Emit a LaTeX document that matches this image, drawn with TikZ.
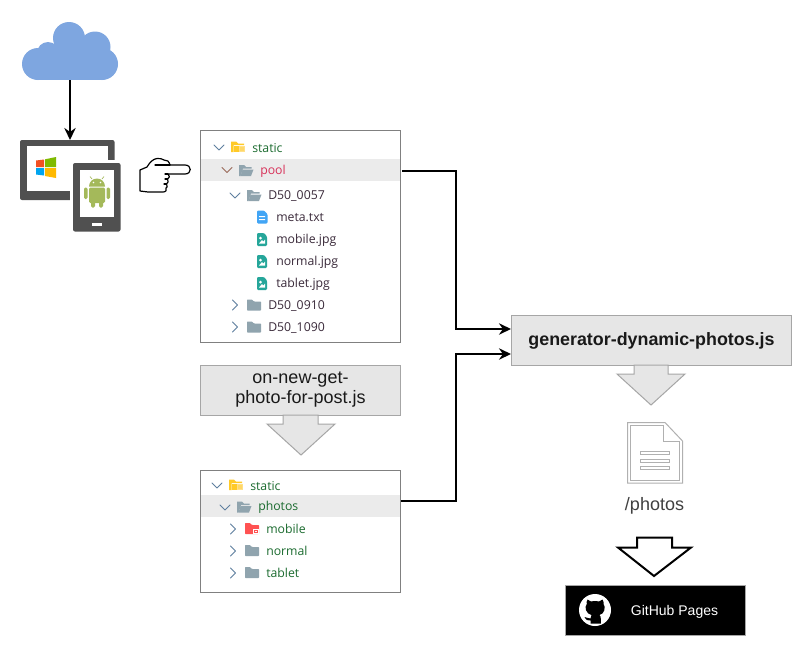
\documentclass[tikz,border=0pt]{standalone}
\usepackage{fontspec}
\setmainfont{Liberation Sans}
\newfontfamily\treefont{Open Sans}
\usetikzlibrary{arrows.meta}
\definecolor{boxgray}{HTML}{E6E6E6}
\definecolor{boxline}{HTML}{A6A6A6}
\definecolor{panelline}{HTML}{808080}
\definecolor{rowgray}{HTML}{EBEBEB}
\definecolor{foldergray}{HTML}{90A4AE}
\definecolor{treegreen}{HTML}{1B6B2F}
\definecolor{treedark}{HTML}{3A2A3A}
\definecolor{treered}{HTML}{D8325A}
\definecolor{chev}{HTML}{5F7F9F}
\definecolor{chevred}{HTML}{9A6A5A}
\definecolor{cloudblue}{HTML}{7EA6E0}
\definecolor{devgray}{HTML}{505050}
\definecolor{androidgreen}{HTML}{A4B95A}
\definecolor{docline}{HTML}{B0B0B0}
\definecolor{folderyellow}{HTML}{FFCA28}
\definecolor{folderyellowb}{HTML}{FFE08A}
\definecolor{imgteal}{HTML}{26A69A}
\definecolor{txtblue}{HTML}{42A5F5}
\definecolor{folderred}{HTML}{FF5252}
\definecolor{winred}{HTML}{F25022}
\definecolor{wingreen}{HTML}{7FBA00}
\definecolor{winblue}{HTML}{00A4EF}
\definecolor{winyellow}{HTML}{FFB900}
\tikzset{
 x=0.75pt,y=-0.75pt,
 panel/.style={draw=panelline,fill=white,line width=0.75pt,inner sep=0pt,minimum width=150pt},
 rowmark/.style={inner sep=0pt,minimum size=0pt},
 procbox/.style={draw=boxline,fill=boxgray,line width=0.75pt,inner sep=0pt,align=center,text=black!90},
 blockarrow/.style={draw=boxline,fill=boxgray,line width=0.75pt,line join=miter},
 outarrow/.style={draw=black,fill=white,line width=1.5pt,line join=miter},
 flow/.style={draw=black,line width=1.5pt,-{Stealth[length=9pt,width=8.5pt]}},
 treelabel/.style={anchor=west,font=\treefont\fontsize{9.2}{11}\selectfont,inner sep=0pt,text=treegreen},
 filelabel/.style={treelabel,text=treedark},
 chevron/.style={draw=chev,line width=0.6pt,line cap=round,line join=round},
}
\newcommand{\chevdown}[2]{\draw[chevron] (#1-5,#2-2.5) -- (#1,#2+2.5) -- (#1+5,#2-2.5);}
\newcommand{\chevright}[2]{\draw[chevron] (#1-2.5,#2-5) -- (#1+2.5,#2) -- (#1-2.5,#2+5);}
% centre x,y of icon
\newcommand{\openfolder}[3]{\fill[#3] (#1-7,#2-5.5) -- (#1-2,#2-5.5) -- (#1,#2-3.5) -- (#1+5.5,#2-3.5) -- (#1+5.5,#2-2) -- (#1-3,#2-2) -- (#1-5.5,#2+5.5) -- (#1-7,#2+5.5) -- cycle;
 \fill[#3] (#1-3.5,#2-1) -- (#1+7.5,#2-1) -- (#1+5,#2+5.5) -- (#1-5.5,#2+5.5) -- cycle;}
\newcommand{\closedfolder}[3]{\fill[#3,rounded corners=0.5pt] (#1-7,#2-5.5) -- (#1-2,#2-5.5) -- (#1,#2-3.5) -- (#1+7,#2-3.5) -- (#1+7,#2+5.5) -- (#1-7,#2+5.5) -- cycle;}
\newcommand{\staticfolder}[2]{\fill[folderyellow] (#1-7,#2-5.5) -- (#1-2,#2-5.5) -- (#1,#2-3.5) -- (#1+6,#2-3.5) -- (#1+6,#2-2) -- (#1-4.5,#2-2) -- (#1-4.5,#2+5) -- (#1-7,#2+5) -- cycle;
 \fill[folderyellow] (#1-4,#2-1) -- (#1+1,#2-1) -- (#1+1,#2+5) -- (#1-4,#2+5) -- cycle;
 \fill[folderyellowb] (#1+1,#2-1) rectangle (#1+7,#2+4.5);
 \fill[folderyellow] (#1+2,#2+0.5) rectangle (#1+6,#2+1.3) (#1+2,#2+2.5) rectangle (#1+6,#2+3.3);}
\newcommand{\imagefile}[2]{\fill[rounded corners=0.8pt,imgteal] (#1-5,#2-6.5) -- (#1+2,#2-6.5) -- (#1+5,#2-3) -- (#1+5,#2+6.5) -- (#1-5,#2+6.5) -- cycle;
 \fill[white] (#1-1.5,#2-1.5) circle (1.5);
 \fill[white] (#1-3,#2+4) -- (#1,#2+0.5) -- (#1+1.5,#2+2) -- (#1+3,#2) -- (#1+3,#2+4) -- cycle;}
\begin{document}
\begin{tikzpicture}
\useasboundingbox (0,0) rectangle (812,657);
\fill[white] (0,0) rectangle (812,657);

% cloud
\fill[cloudblue] (38,64) circle (16) (48,53) circle (11) (69,38) circle (16) (95,47) circle (15.5) (102,64) circle (16);
\fill[cloudblue] (38,50) rectangle (102,80);
\fill[cloudblue] (55,40) rectangle (95,60);
\coordinate (cloudbot) at (70,80);

% devices
\coordinate (devtop) at (70,140);
\fill[devgray,rounded corners=1.5pt] (20,140) rectangle (114.5,200);
\fill[white] (27,146) rectangle (108,191);
\fill[white] (70,160) rectangle (123,235);
\fill[devgray,rounded corners=1.5pt] (73,163) rectangle (120.5,231.5);
\fill[white] (80,169.5) rectangle (114,217);
\fill[white] (92,223) rectangle (102,226);
% windows logo
\fill[winred] (36,160.5) -- (44,159.5) -- (44,167) -- (36,167) -- cycle;
\fill[wingreen] (45,159.3) -- (56,157) -- (56,167) -- (45,167) -- cycle;
\fill[winblue] (36,168) -- (44,168) -- (44,175.5) -- (36,174.5) -- cycle;
\fill[winyellow] (45,168) -- (56,168) -- (56,178) -- (45,176) -- cycle;
% android
\fill[androidgreen] (89,186.5) arc[start angle=180,end angle=360,radius=8] -- cycle;
\draw[androidgreen,line width=0.5pt] (92,179) -- (90,176.5) (102,179) -- (104,176.5);
\fill[androidgreen,rounded corners=1pt] (89,187.5) rectangle (105,203);
\fill[androidgreen,rounded corners=1pt] (84,187.5) rectangle (87.5,199);
\fill[androidgreen,rounded corners=1pt] (106.5,187.5) rectangle (110,199);
\fill[androidgreen,rounded corners=1pt] (91,201) rectangle (95,207.5);
\fill[androidgreen,rounded corners=1pt] (99,201) rectangle (103,207.5);
\fill[white] (93.5,182.5) circle (0.8) (100.5,182.5) circle (0.8);

\draw[flow] (cloudbot) -- (devtop);

% pointing hand
\begin{scope}[line width=0.9pt,line join=round,line cap=round]
\draw[black,fill=white] (140,191) -- (140,170) -- (147,167)
 .. controls (150,162) and (153,159) .. (157,158.5)
 .. controls (160,158) and (162,159) .. (164,160) .. controls (167,160) and (169,161) .. (170,165)
 -- (185,165) .. controls (192,165) and (192,174) .. (185,174) -- (168,174)
 .. controls (170,176) and (170,178) .. (167.5,179)
 .. controls (169,181) and (168,183) .. (166.5,184)
 .. controls (168,186) and (167,188) .. (166,188)
 .. controls (167,190) and (166,192) .. (163,192)
 -- (148,192) -- (140,191) -- cycle;
\draw (155,165) -- (170,165) (168,174) -- (165,174) (167.5,179) -- (165,179) (166.5,184) -- (164,184);
\end{scope}

% top panel
\node[panel,minimum height=159pt] (pool) at (300.5,236.5) {};
\fill[rowgray] (201,159) rectangle (400,181);
\node[rowmark] (poolrow) at (402,171) {};
\chevdown{219}{147.5}
\staticfolder{238}{147}
\node[treelabel] (t1) at (252,148) {static};
\draw[chevron,draw=chevred] (222,167.5) -- (227,172.5) -- (232,167.5);
\openfolder{246}{170.5}{foldergray}
\node[treelabel,text=treered] (t2) at (260,171) {pool};
\chevdown{235}{195.5}
\openfolder{254}{195.5}{foldergray}
\node[filelabel] (t3) at (268,196) {D50\_0057};
\fill[rounded corners=0.8pt,txtblue] (257,210.5) -- (264,210.5) -- (267.5,214) -- (267.5,223.5) -- (257,223.5) -- cycle;
\fill[white] (259,216) rectangle (265,217) (259,219) rectangle (265,220);
\node[filelabel] (t4) at (276,218) {meta.txt};
\imagefile{262}{239.5}
\node[filelabel] (t5) at (276,240) {mobile.jpg};
\imagefile{262}{261.5}
\node[filelabel] (t6) at (276,262) {normal.jpg};
\imagefile{262}{283.5}
\node[filelabel] (t7) at (276,284) {tablet.jpg};
\chevright{235}{305}
\closedfolder{254}{305}{foldergray}
\node[filelabel] (t8) at (268,306) {D50\_0910};
\chevright{235}{327}
\closedfolder{254}{327}{foldergray}
\node[filelabel] (t9) at (268,328) {D50\_1090};

% script box
\node[procbox,minimum width=150.5pt,minimum height=37.5pt,font=\fontsize{13.5}{15}\selectfont] (script) at (300.5,390) {\raisebox{-0.8pt}{on-new-get-}\\\raisebox{-0.8pt}{photo-for-post.js}};
\draw[blockarrow] (283,415) -- (318,415) -- (318,424) -- (335,424) -- (301,455) -- (267,424) -- (283,424) -- cycle;

% bottom panel
\node[panel,minimum height=91.5pt] (photospanel) at (300.5,531.5) {};
\fill[rowgray] (201,495) rectangle (400,517);
\node[rowmark] (photosrow) at (401,501) {};
\chevdown{217}{485.5}
\staticfolder{236}{485}
\node[treelabel] (b1) at (250,486) {static};
\chevdown{225}{507.5}
\openfolder{244}{507}{foldergray}
\node[treelabel] (b2) at (258,507.5) {photos};
\chevright{233}{529}
\closedfolder{252}{528.5}{folderred}
\fill[white] (253,529) rectangle (259,534);
\fill[folderred] (254,530) rectangle (258,533);
\fill[white] (255,531) rectangle (257,532);
\node[treelabel] (b3) at (266,529) {mobile};
\chevright{233}{551}
\closedfolder{252}{550.5}{foldergray}
\node[treelabel] (b4) at (266,551) {normal};
\chevright{233}{573}
\closedfolder{252}{572.5}{foldergray}
\node[treelabel] (b5) at (266,573) {tablet};

% generator
\node[procbox,minimum width=210pt,minimum height=37.5pt,font=\bfseries\fontsize{13.4}{15}\selectfont] (gen) at (651.5,340.5) {\raisebox{-0.8pt}{generator-dynamic-photos.js}};
\draw[blockarrow] (634,365) -- (668,365) -- (668,374) -- (685,374) -- (651,405) -- (617,374) -- (634,374) -- cycle;

\coordinate (genin1) at (gen.west |- 0,329);
\coordinate (genin2) at (gen.west |- 0,354);
\draw[flow] (poolrow) -- (456,171) -- (456,329) -- (genin1);
\draw[flow] (photosrow) -- (456,501) -- (456,354) -- (genin2);

% document
\draw[docline,line width=0.75pt,fill=white,line join=miter] (627.5,422.5) -- (665,422.5) -- (682.5,441) -- (682.5,483) -- (627.5,483) -- cycle;
\draw[docline,line width=0.75pt] (630.5,425.5) -- (663,425.5) -- (663,441.5) -- (679.5,441.5) -- (679.5,480) -- (630.5,480) -- cycle;
\draw[docline,line width=0.75pt,fill=white] (640.5,451.5) rectangle (669.5,454.5);
\draw[docline,line width=0.75pt,fill=white] (640.5,459) rectangle (669.5,462);
\draw[docline,line width=0.75pt,fill=white] (640.5,466.5) rectangle (669.5,469.5);
\node[inner sep=0pt,font=\fontsize{13.5}{15}\selectfont,text=black!75] (photos) at (654.5,505.5) {/photos};

% out arrow
\draw[outarrow] (637,537.5) -- (672,537.5) -- (672,547.5) -- (691,547.5) -- (654,576) -- (618,547.5) -- (637,547.5) -- cycle;

% github
\node[draw=boxline,fill=black,line width=0.5pt,minimum width=135pt,minimum height=37.5pt,inner sep=0pt] (gh) at (655,610) {};
\fill[white] (595,610) circle (16);
\fill[black] (587.5,599.5) -- (591,601.5) .. controls (593,601) and (597,601) .. (599,601.5) -- (602.5,599.5)
 .. controls (603.5,601) and (603.8,603) .. (603.5,604) .. controls (606,607) and (604.5,614) .. (599.5,615)
 .. controls (600.5,616) and (600.8,617) .. (600.8,619) -- (600.8,623.5) -- (590.5,623.5) -- (590.5,620.5)
 .. controls (587.5,621) and (586,620) .. (584.5,617) .. controls (586.5,617) and (587.5,618.5) .. (590.5,618.5)
 .. controls (590.5,617) and (590.5,616) .. (591.5,615)
 .. controls (586,614) and (584,607) .. (586.8,604) .. controls (586.5,603) and (586.5,601) .. (587.5,599.5) -- cycle;
\node[inner sep=0pt,text=white,font=\fontsize{10.5}{12}\selectfont] (ghtext) at (674.5,611.5) {GitHub Pages};
\end{tikzpicture}
\end{document}
